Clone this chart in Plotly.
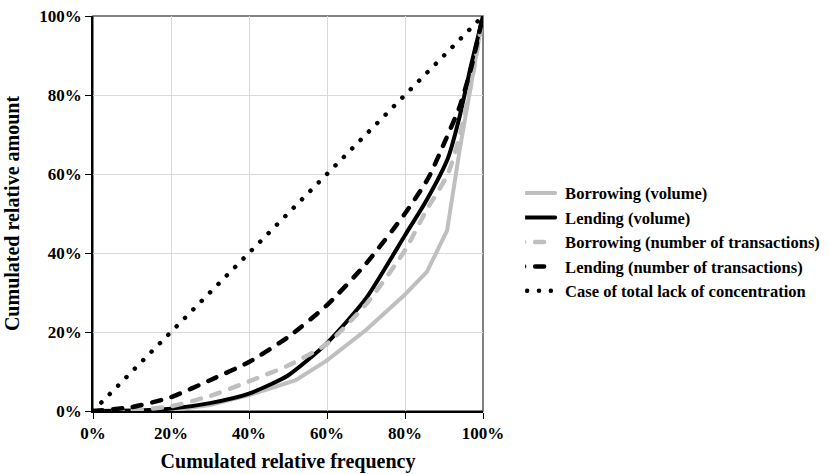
import plotly.graph_objects as go

# Data (percentages)
x_borrow_vol = [0, 10, 20, 30, 40, 52, 60, 70, 80, 85.6, 90.8, 94, 96.5, 100]
y_borrow_vol = [0, 0, 0.2, 1.5, 4, 7.8, 12.8, 20.5, 29.5, 35.2, 45.7, 66, 80, 100]

x_lend_vol = [0, 10, 20, 30, 40, 50, 60, 70, 80, 85.6, 91, 94, 96.8, 100]
y_lend_vol = [0, 0.1, 0.6, 2, 4.4, 9, 17.2, 28.5, 44.5, 53.5, 64, 74.5, 87, 100]

x_borrow_num = [0, 10, 20, 30, 40, 50, 60, 70, 80, 85.6, 91, 94, 97, 100]
y_borrow_num = [0, 0.2, 1.2, 3.8, 7.5, 11.5, 17, 27, 40.7, 51, 60, 69.5, 83, 100]

x_lend_num = [0, 10, 20, 30, 40, 50, 60, 70, 80, 86, 90, 94, 97, 100]
y_lend_num = [0, 1, 3.5, 7.8, 12.4, 18.7, 26.8, 37.3, 50, 59, 67.7, 77, 87, 100]

x_equal = [0, 100]
y_equal = [0, 100]

names = [
    "Borrowing (volume)",
    "Lending (volume)",
    "Borrowing (number of transactions)",
    "Lending (number of transactions)",
    "Case of total lack of concentration",
]

tick_vals = [0, 20, 40, 60, 80, 100]
tick_text = ["0%", "20%", "40%", "60%", "80%", "100%"]

FONT = "Liberation Serif, Times New Roman, serif"
GRAY = "#bfbfbf"

fig = go.Figure()
series = [
    (x_borrow_vol, y_borrow_vol, GRAY, "solid", 4, "linear"),
    (x_lend_vol, y_lend_vol, "#000000", "solid", 4, "spline"),
    (x_borrow_num, y_borrow_num, GRAY, "9px,11px", 4.5, "spline"),
    (x_lend_num, y_lend_num, "#000000", "9px,11px", 4.5, "spline"),
    (x_equal, y_equal, "#000000", "0.1px,11.8px", 4.5, "linear"),
]
for i, (xs, ys, col, dash, w, shp) in enumerate(series):
    line = dict(color=col, width=w, dash=dash, shape=shp)
    if shp == "spline":
        line["smoothing"] = 0.6
    fig.add_trace(go.Scatter(
        x=xs, y=ys, mode="lines", name=names[i], legendgroup=str(i),
        line=line,
    ))

fig.add_shape(type="rect", xref="x domain", yref="y domain", x0=0, x1=1, y0=0, y1=1,
              line=dict(color="#595959", width=1.5), layer="below")

fig.update_layout(
    width=829, height=474,
    margin=dict(l=93, r=346, t=16, b=63, autoexpand=False),
    paper_bgcolor="white", plot_bgcolor="white",
    font=dict(family=FONT, color="#000000"),
    showlegend=True,
    legend=dict(
        x=1.108, xanchor="left", y=0.427, yanchor="middle",
        font=dict(family=FONT, size=16.5, color="#000000", weight="bold"),
        traceorder="grouped", tracegroupgap=0,
        bgcolor="rgba(0,0,0,0)",
    ),
    xaxis=dict(
        range=[0, 100], tickvals=tick_vals, ticktext=tick_text,
        showgrid=True, gridcolor="#d9d9d9", gridwidth=1,
        showline=True, linecolor="#000000", linewidth=1.5,
        ticks="outside", ticklen=6, tickcolor="#000000", automargin=False,
        tickfont=dict(family=FONT, size=17, color="#000000", weight="bold"),
        title=dict(text="<b>Cumulated relative frequency</b>",
                   font=dict(family=FONT, size=20, color="#000000"), standoff=12),
        zeroline=False,
    ),
    yaxis=dict(
        range=[0, 100], tickvals=tick_vals, ticktext=tick_text,
        showgrid=True, gridcolor="#d9d9d9", gridwidth=1,
        showline=True, linecolor="#000000", linewidth=1.5,
        ticks="outside", ticklen=6, tickcolor="#000000", automargin=False,
        tickfont=dict(family=FONT, size=17, color="#000000", weight="bold"),
        title=dict(text="<b>Cumulated relative amount</b>",
                   font=dict(family=FONT, size=20, color="#000000"), standoff=14),
        zeroline=False,
    ),
)

post = """
document.body.style.margin='0';
function rc(){
  document.querySelectorAll('.scatterlayer path.js-line, .legendlines path').forEach(function(p){p.style.strokeLinecap='round';});
  document.querySelectorAll('.legendlines path').forEach(function(p){p.setAttribute('d','M-10,0h40');});
}
rc(); var gd=document.getElementsByClassName('plotly-graph-div')[0]; if(gd&&gd.on){gd.on('plotly_afterplot', rc);}
"""
fig.write_html("out.html", post_script=post, config={"displayModeBar": False})
